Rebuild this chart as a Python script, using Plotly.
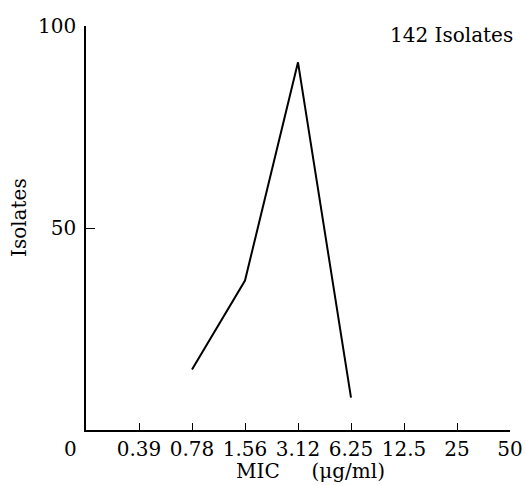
import plotly.graph_objects as go

# Data
mic_labels = ["0", "0.39", "0.78", "1.56", "3.12", "6.25", "12.5", "25", "50"]
data_mic = ["0.78", "1.56", "3.12", "6.25"]
isolates = [15, 37, 91, 8]
y_ticks = [50, 100]

pos = {lab: i for i, lab in enumerate(mic_labels)}
xs = [pos[m] for m in data_mic]

FONT = "DejaVu Serif"
fs = 20

W, H = 525, 485
L, R, T, B = 86, 15, 26, 55
PW, PH = W - L - R, H - T - B

fig = go.Figure()
fig.add_trace(go.Scatter(x=xs, y=isolates, mode="lines",
                         line=dict(color="black", width=2), showlegend=False))

fig.update_layout(
    width=W, height=H,
    margin=dict(l=L, r=R, t=T, b=B, autoexpand=False),
    plot_bgcolor="white", paper_bgcolor="white",
    font=dict(family=FONT, size=fs, color="black"),
    xaxis=dict(
        range=[0, len(mic_labels) - 1],
        tickvals=list(range(1, len(mic_labels))),
        ticktext=mic_labels[1:],
        ticks="inside", ticklen=7, tickwidth=1.2, tickcolor="black",
        showline=True, linecolor="black", linewidth=1.5,
        showgrid=False, zeroline=False, automargin=False,
        tickfont=dict(family=FONT, size=fs),
    ),
    yaxis=dict(
        range=[0, 100],
        tickvals=y_ticks,
        ticks="inside", ticklen=9, tickwidth=1.2, tickcolor="black",
        showline=True, linecolor="black", linewidth=1.5,
        showgrid=False, zeroline=False, automargin=False,
        tickfont=dict(family=FONT, size=fs),
        ticklabelstandoff=4,
    ),
    annotations=[
        dict(x=0, y=0, xref="x", yref="y", text=mic_labels[0], showarrow=False,
             xanchor="center", yanchor="top", xshift=-16, yshift=-5,
             font=dict(family=FONT, size=fs)),
        dict(x=(451 - L) / PW, y=(430 - 35) / PH, xref="paper", yref="paper",
             text="142 Isolates", showarrow=False,
             xanchor="center", yanchor="middle",
             font=dict(family=FONT, size=fs)),
        dict(x=(310 - L) / PW, y=(430 - 471) / PH, xref="paper", yref="paper",
             text="MIC\u00a0\u00a0\u00a0\u00a0\u00a0(\u03bcg/ml)",
             showarrow=False, xanchor="center", yanchor="middle",
             font=dict(family=FONT, size=fs)),
        dict(x=(19 - L) / PW, y=(430 - 218) / PH, xref="paper", yref="paper",
             text="Isolates", textangle=-90, showarrow=False,
             xanchor="center", yanchor="middle",
             font=dict(family=FONT, size=fs)),
    ],
)

fig.write_html(
    "out.html",
    config={"displayModeBar": False},
    post_script=(
        "document.documentElement.style.margin='0';"
        "document.body.style.margin='0';"
        "document.documentElement.style.overflow='hidden';"
        "document.body.style.overflow='hidden';"
    ),
)
